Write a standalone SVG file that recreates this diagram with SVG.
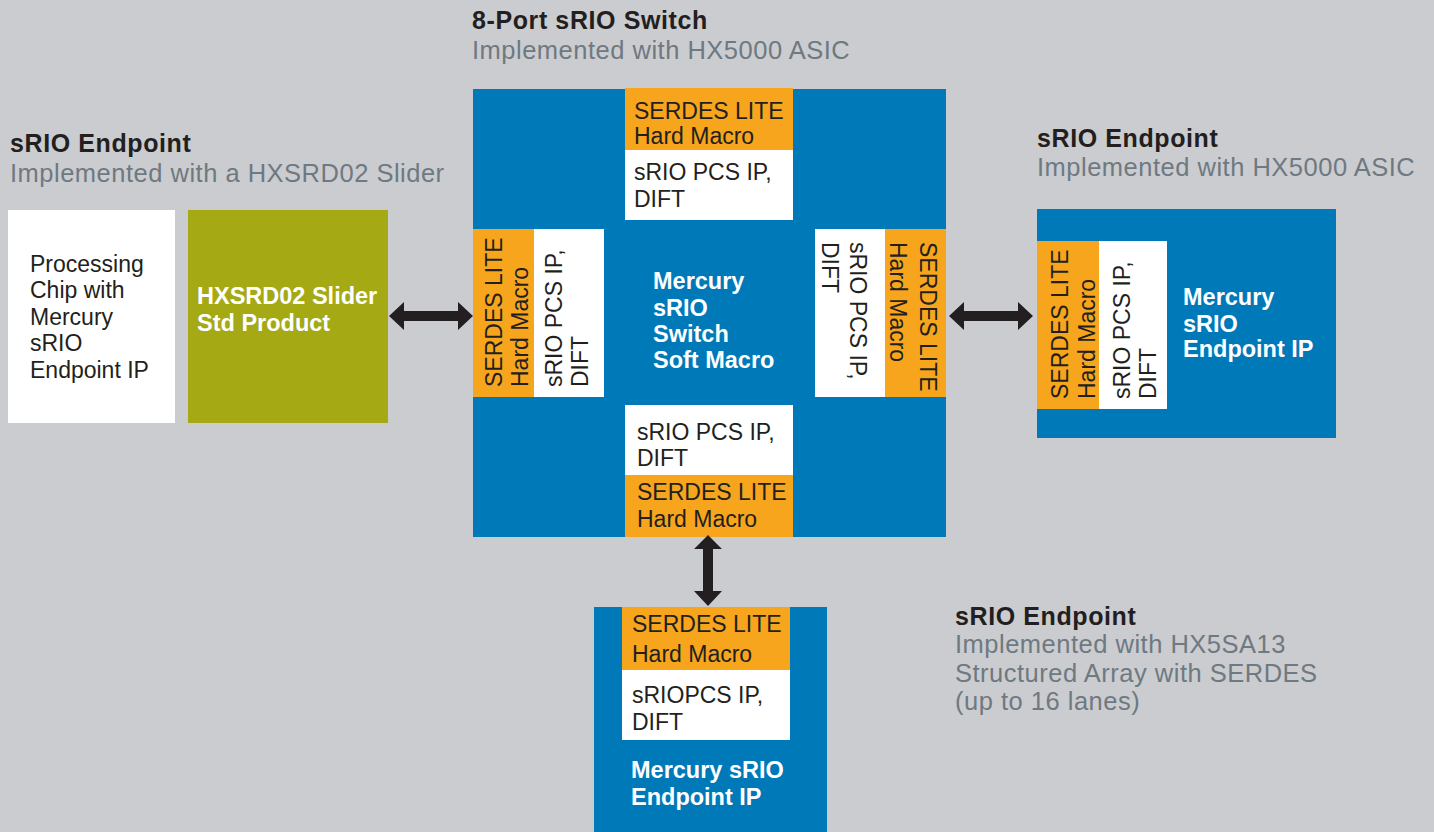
<svg xmlns="http://www.w3.org/2000/svg" width="1434" height="832" viewBox="0 0 1434 832">
<style>
.h{font-family:"Liberation Sans",Arial,sans-serif;font-weight:bold;font-size:25px;letter-spacing:0.6px;fill:#231f20}
.g{font-family:"Liberation Sans",Arial,sans-serif;font-size:25.5px;letter-spacing:0.5px;fill:#6e7981}
.b{font-family:"Liberation Sans",Arial,sans-serif;font-size:23px;fill:#231f20}
.w{font-family:"Liberation Sans",Arial,sans-serif;font-weight:bold;font-size:23.5px;fill:#ffffff}
.blue{fill:#0079b8}
.or{fill:#f6a51c}
.wh{fill:#ffffff}
.ol{fill:#a5a914}
.arr{fill:#231f20}
</style>
<rect x="0" y="0" width="1434" height="832" fill="#cbcccf"/>

<g id="titles">
<text class="h" x="472" y="29">8-Port sRIO Switch</text>
<text class="g" x="472" y="59">Implemented with HX5000 ASIC</text>
<text class="h" x="10" y="152">sRIO Endpoint</text>
<text class="g" x="10" y="182">Implemented with a HXSRD02 Slider</text>
<text class="h" x="1037" y="147">sRIO Endpoint</text>
<text class="g" x="1037" y="176">Implemented with HX5000 ASIC</text>
<text class="h" x="955" y="625">sRIO Endpoint</text>
<text class="g" x="955" y="653">Implemented with HX5SA13</text>
<text class="g" x="955" y="682">Structured Array with SERDES</text>
<text class="g" x="955" y="710">(up to 16 lanes)</text>
</g>

<g id="processing-chip">
<rect class="wh" x="8" y="210" width="167" height="213"/>
<text class="b" font-size="23.5" x="30" y="272">Processing</text>
<text class="b" font-size="23.5" x="30" y="298">Chip with</text>
<text class="b" font-size="23.5" x="30" y="325">Mercury</text>
<text class="b" font-size="23.5" x="30" y="351">sRIO</text>
<text class="b" font-size="23.5" x="30" y="378">Endpoint IP</text>
</g>

<g id="slider">
<rect class="ol" x="188" y="210" width="200" height="213"/>
<text class="w" x="197" y="304">HXSRD02 Slider</text>
<text class="w" x="197" y="331">Std Product</text>
</g>

<g id="switch">
<rect class="blue" x="473" y="89" width="473" height="448"/>
<text class="w" x="653" y="289">Mercury</text>
<text class="w" x="653" y="316">sRIO</text>
<text class="w" x="653" y="342">Switch</text>
<text class="w" x="653" y="368">Soft Macro</text>
</g>

<g id="switch-port-top">
<rect class="or" x="625" y="88" width="168" height="62"/>
<rect class="wh" x="625" y="150" width="168" height="70"/>
<text class="b" x="634" y="119">SERDES LITE</text>
<text class="b" x="634" y="144">Hard Macro</text>
<text class="b" x="634" y="180">sRIO PCS IP,</text>
<text class="b" x="634" y="207">DIFT</text>
</g>

<g id="switch-port-left">
<rect class="or" x="473" y="229" width="61" height="168"/>
<rect class="wh" x="534" y="229" width="70" height="168"/>
<text class="b" transform="translate(502,387) rotate(-90)">SERDES LITE</text>
<text class="b" transform="translate(528,387) rotate(-90)">Hard Macro</text>
<text class="b" transform="translate(562,387) rotate(-90)">sRIO PCS IP,</text>
<text class="b" transform="translate(588,387) rotate(-90)">DIFT</text>
</g>

<g id="switch-port-right">
<rect class="wh" x="815" y="229" width="70" height="168"/>
<rect class="or" x="885" y="229" width="61" height="168"/>
<text class="b" transform="translate(920,242) rotate(90)">SERDES LITE</text>
<text class="b" transform="translate(890,242) rotate(90)">Hard Macro</text>
<text class="b" transform="translate(850,242) rotate(90)">sRIO PCS IP,</text>
<text class="b" transform="translate(822,242) rotate(90)">DIFT</text>
</g>

<g id="switch-port-bottom">
<rect class="wh" x="625" y="405" width="168" height="70"/>
<rect class="or" x="625" y="475" width="168" height="62"/>
<text class="b" x="637" y="440">sRIO PCS IP,</text>
<text class="b" x="637" y="466">DIFT</text>
<text class="b" x="637" y="500">SERDES LITE</text>
<text class="b" x="637" y="527">Hard Macro</text>
</g>

<g id="endpoint-right">
<rect class="blue" x="1037" y="209" width="299" height="229"/>
<rect class="or" x="1037" y="241" width="62" height="168"/>
<rect class="wh" x="1099" y="241" width="68" height="168"/>
<text class="b" transform="translate(1068,399) rotate(-90)">SERDES LITE</text>
<text class="b" transform="translate(1095,399) rotate(-90)">Hard Macro</text>
<text class="b" transform="translate(1130,399) rotate(-90)">sRIO PCS IP,</text>
<text class="b" transform="translate(1156,399) rotate(-90)">DIFT</text>
<text class="w" x="1183" y="305">Mercury</text>
<text class="w" x="1183" y="332">sRIO</text>
<text class="w" x="1183" y="357">Endpoint IP</text>
</g>

<g id="endpoint-bottom">
<rect class="blue" x="594" y="607" width="233" height="225"/>
<rect class="or" x="622" y="607" width="168" height="63"/>
<rect class="wh" x="622" y="670" width="168" height="70"/>
<text class="b" x="632" y="632">SERDES LITE</text>
<text class="b" x="632" y="662">Hard Macro</text>
<text class="b" x="632" y="703">sRIOPCS IP,</text>
<text class="b" x="632" y="730">DIFT</text>
<text class="w" x="631" y="778">Mercury sRIO</text>
<text class="w" x="631" y="805">Endpoint IP</text>
</g>

<g id="connectors">
<path class="arr" d="M389,316 L404,302 L404,311 L458,311 L458,302 L473,316 L458,330 L458,321 L404,321 L404,330 Z"/>
<path class="arr" d="M949,316 L964,302 L964,311 L1018,311 L1018,302 L1033,316 L1018,330 L1018,321 L964,321 L964,330 Z"/>
<path class="arr" d="M708,535 L722,549 L713,549 L713,591 L722,591 L708,606 L694,591 L703,591 L703,549 L694,549 Z"/>
</g>
</svg>
